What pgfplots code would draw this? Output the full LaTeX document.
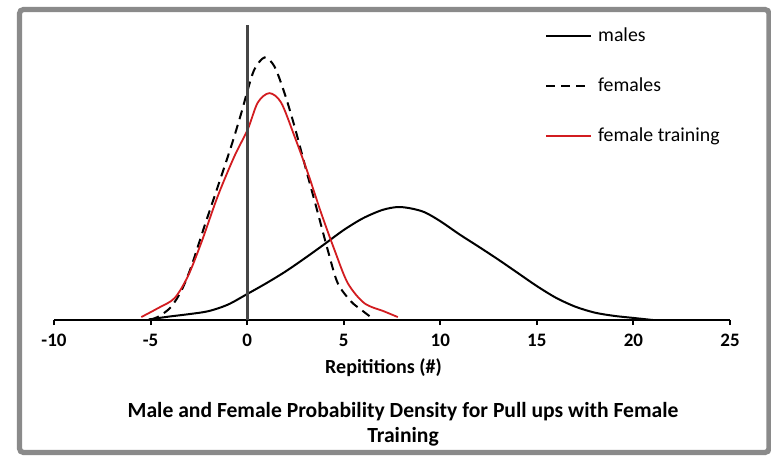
\documentclass[border=0pt]{standalone}
\usepackage{fontspec}
\setmainfont{Carlito}
\usepackage{xcolor}
\usepackage{pgfplots}
\pgfplotsset{compat=1.18}
\definecolor{trainred}{RGB}{210,28,32}
\definecolor{axisgray}{RGB}{70,70,70}
\definecolor{framegray}{RGB}{138,138,138}

\begin{document}
\begin{tikzpicture}
\path[use as bounding box] (-27pt,-68pt) rectangle (358.5pt,160pt);
\draw[framegray, line width=2.6pt, rounded corners=2pt] (-17.25pt,-66.25pt) rectangle (357.5pt,155.25pt);
\begin{axis}[
  scale only axis,
  width=338pt, height=147.5pt,
  xmin=-10, xmax=25,
  ymin=0, ymax=1,
  axis x line=bottom,
  axis y line=middle,
  axis line style={-},
  x axis line style={black, line width=1pt},
  y axis line style={axisgray, line width=1.6pt},
  xtick={-10,-5,0,5,10,15,20,25},
  ytick=\empty,
  xtick align=outside,
  major tick length=2.6pt,
  tick style={black, line width=1pt},
  /pgf/number format/assume math mode=true,
  xticklabel style={font=\bfseries\fontsize{9.5}{11}\selectfont, yshift=-1pt},
  xlabel={Repititions (\#)},
  xlabel style={at={(axis description cs:0.4874,-0.163)}, anchor=center, font=\bfseries\fontsize{10}{12}\selectfont},
  axis on top,
  clip=false,
  legend cell align=left,
  legend image code/.code={\draw[#1] (0pt,0pt) -- (22.5pt,0pt);},
  legend style={at={(0.726,1.0)}, anchor=north west, draw=none, fill=none,
    inner sep=0pt, row sep=14.75pt, column sep=2pt,
    font=\fontsize{9.9}{11}\selectfont, nodes={inner sep=1pt}},
]
\addplot[black, line width=1pt, smooth] coordinates {
  (-5.1,0.002) (-4,0.012) (-3,0.02) (-2,0.03) (-1,0.052) (0,0.088)
  (1,0.125) (2,0.165) (3,0.21) (4,0.257) (5,0.305) (6,0.345) (7,0.373)
  (7.8,0.383) (8.5,0.378) (9.2,0.365) (10,0.335) (11,0.29) (12,0.248)
  (13,0.205) (14,0.16) (15,0.115) (16,0.075) (17,0.045) (18,0.025)
  (19,0.014) (20,0.007) (21,0.0)
};
\addlegendentry{males}
\addplot[black, line width=1pt, dash pattern=on 4.5pt off 3pt, smooth] coordinates {
  (-5.0,0.0) (-4.5,0.015) (-3.93,0.045) (-3.4,0.1) (-2.9,0.18) (-2.21,0.318)
  (-1.52,0.452) (-0.83,0.588) (-0.31,0.7) (0.03,0.78) (0.38,0.85) (0.9,0.89)
  (1.41,0.86) (1.93,0.77) (2.45,0.657) (3.14,0.488) (3.66,0.363) (4.17,0.238)
  (4.69,0.125) (5.38,0.063) (5.9,0.035) (6.36,0.012)
};
\addlegendentry{females}
\addplot[trainred, line width=0.9pt, smooth] coordinates {
  (-5.48,0.01) (-4.62,0.04) (-3.76,0.074) (-3.07,0.148) (-2.38,0.261)
  (-1.52,0.42) (-0.66,0.555) (0.03,0.646) (0.55,0.737) (1.15,0.769)
  (1.76,0.737) (2.45,0.623) (3.14,0.499) (3.83,0.363) (4.52,0.238)
  (5.21,0.125) (6.07,0.057) (7.1,0.029) (7.8,0.01)
};
\addlegendentry{female training}
\end{axis}
\node[font=\bfseries\fontsize{10.8}{12.5}\selectfont, align=center] at (174.5pt,-52.25pt)
  {Male and Female Probability Density for Pull ups with Female\\Training};
\end{tikzpicture}
\end{document}
